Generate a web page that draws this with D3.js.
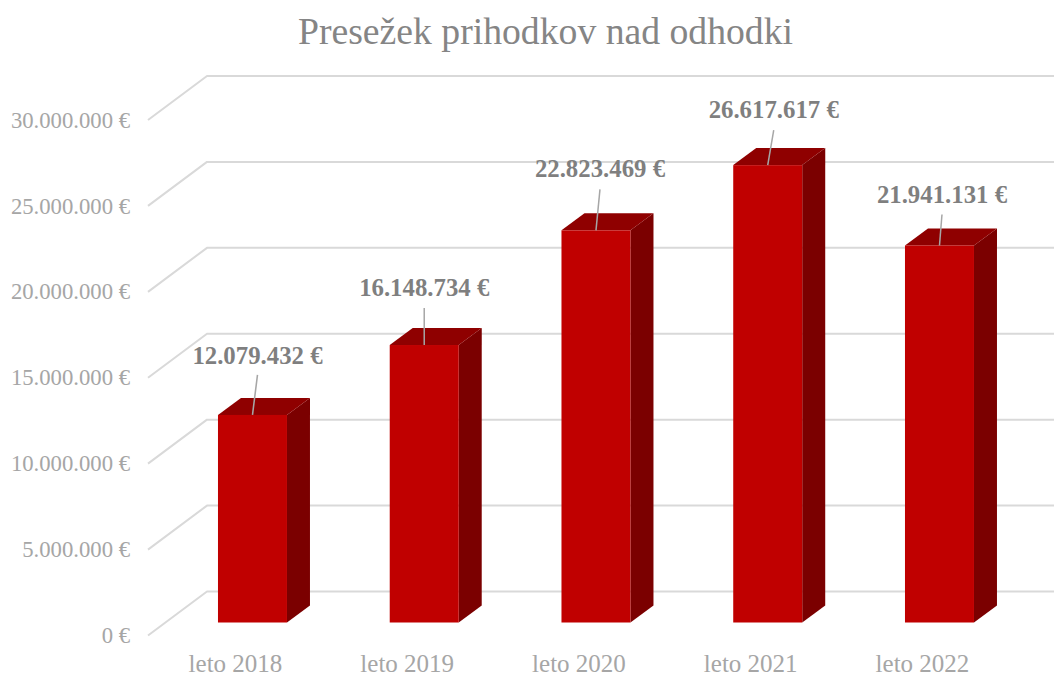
<!DOCTYPE html>
<html><head><meta charset="utf-8">
<script src="https://cdn.jsdelivr.net/npm/d3@7"></script>
<style>html,body{margin:0;padding:0;background:#fff}svg{display:block}text{font-family:"Liberation Serif",serif}</style>
</head><body><svg id="c" width="1054" height="677"></svg>
<script>
const titleText = "Presežek prihodkov nad odhodki";
const categories = ["leto 2018","leto 2019","leto 2020","leto 2021","leto 2022"];
const surplus = [12079432,16148734,22823469,26617617,21941131];
const yTicks = [0,5000000,10000000,15000000,20000000,25000000,30000000];
const yMax = 30000000;

// layout only
const W=1054,H=677, frontBottom=635.5, plotHeight=515.5;
const backDX=59, backDY=-44, barDX=17, barDY=-13, depthX=23, depthY=-17, barW=69;
const labelLayout = [[5,-59,-40],[0,-57,-37],[4,-61,-41],[6,-55,-35],[2.5,-50,-31]];

const svg=d3.select("#c");
const x=d3.scaleBand().domain(categories).range([149.6,149.6+5*171.75]);
const y=d3.scaleLinear().domain([0,yMax]).range([frontBottom,frontBottom-plotHeight]);
const loc=d3.formatLocale({decimal:",",thousands:".",grouping:[3],currency:["","€"]});
const fmt=v=>loc.format(",.0f")(v)+" €";

svg.append("text").attr("x",545.5).attr("y",44).attr("text-anchor","middle")
  .attr("font-size",37.7).attr("fill","#858585").text(titleText);

// gridlines: wall + floor edge
const grid=svg.append("g").attr("fill","none").attr("stroke","#d9d9d9").attr("stroke-linejoin","round");
yTicks.forEach(t=>{
  grid.append("path").attr("stroke-width",2)
    .attr("d",`M148,${y(t)}L${148+backDX},${y(t)+backDY}L${W},${y(t)+backDY}`);
});

// y axis labels
const yAxis=d3.axisLeft(y).tickValues(yTicks).tickFormat(fmt).tickSize(0).tickPadding(0);
const ga=svg.append("g").attr("transform","translate(130,1)").call(yAxis);
ga.select(".domain").remove();
ga.selectAll("text").attr("font-size",22.7).attr("fill","#a6a6a6").style("font-family",'"Liberation Serif",serif').attr("dy","0.27em");

// x axis labels
const xAxis=d3.axisBottom(x).tickSize(0).tickPadding(0);
const gx=svg.append("g").attr("transform","translate(0,651.5)").call(xAxis);
gx.select(".domain").remove();
gx.selectAll("text").attr("font-size",25).attr("fill","#a6a6a6").style("font-family",'"Liberation Serif",serif').attr("dy","0.8em");

// 3D bars
const bars=svg.append("g").selectAll("g").data(categories.map((c,i)=>({c,v:surplus[i],i}))).join("g");
const bx=d=>x(d.c)+x.bandwidth()/2+barDX-barW/2;
const by=d=>y(d.v)+barDY, b0=y(0)+barDY;
bars.append("path").attr("fill","#7b0000").attr("d",d=>{
  const r=bx(d)+barW;
  return `M${r},${by(d)}L${r+depthX},${by(d)+depthY}L${r+depthX},${b0+depthY}L${r},${b0}Z`;});
bars.append("path").attr("fill","#8f0000").attr("d",d=>{
  const l=bx(d);
  return `M${l},${by(d)}L${l+depthX},${by(d)+depthY}L${l+barW+depthX},${by(d)+depthY}L${l+barW},${by(d)}Z`;});
bars.append("rect").attr("fill","#c00000").attr("x",bx).attr("y",by).attr("width",barW).attr("height",d=>b0-by(d));

// leader lines and value labels
bars.append("line").attr("stroke","#a6a6a6").attr("stroke-width",1.5)
  .attr("x1",d=>bx(d)+barW/2).attr("y1",by)
  .attr("x2",d=>bx(d)+barW/2+labelLayout[d.i][0]).attr("y2",d=>by(d)+labelLayout[d.i][2]);
bars.append("text").attr("text-anchor","middle").attr("font-size",24.8).attr("font-weight","bold").attr("fill","#7f7f7f")
  .attr("x",d=>bx(d)+barW/2+labelLayout[d.i][0]).attr("y",d=>by(d)+labelLayout[d.i][1]+8)
  .text(d=>fmt(d.v));
</script></body></html>
